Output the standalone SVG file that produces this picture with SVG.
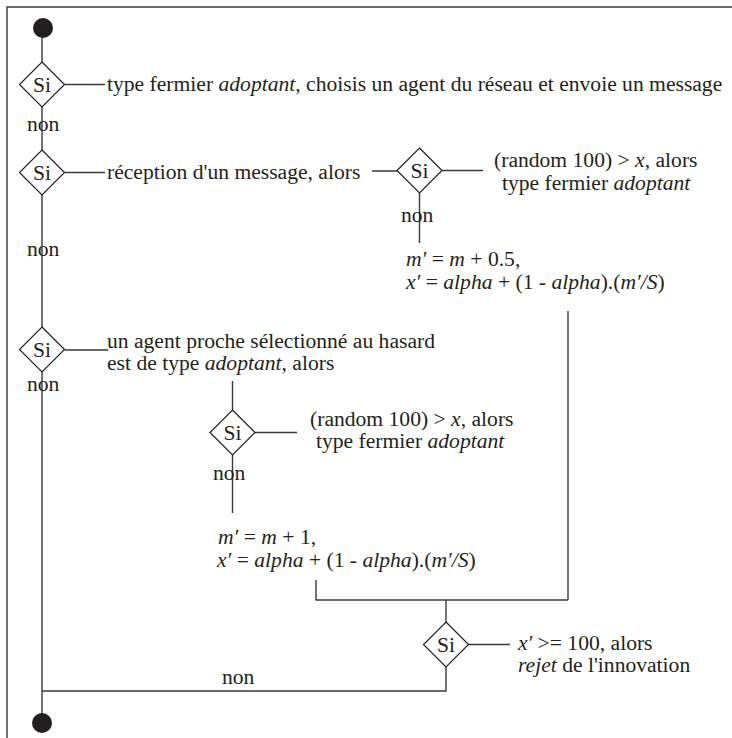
<svg xmlns="http://www.w3.org/2000/svg" width="732" height="738" viewBox="0 0 732 738" font-family="'Liberation Serif', Tinos, 'Times New Roman', 'Nimbus Roman', 'DejaVu Serif', serif">
<style>
text{font-family:'Liberation Serif',Tinos,'Times New Roman','Nimbus Roman','DejaVu Serif',serif;font-size:21.6px;fill:#231f20}
.i{font-style:italic}
.ln{stroke:#3a3a3a;stroke-width:1.4;fill:none}
.dm{fill:#fff;stroke:#231f20;stroke-width:1.2}
.si{text-anchor:middle}
.dot{fill:#231f20}
</style>
<rect width="732" height="738" fill="#fff"/>
<g id="frame"><path class="ln" d="M7,738 V7 H732"/></g>
<g id="connectors">
<path class="ln" d="M42,28 V62 M42,107 V150 M42,195 V327 M42,372 V723"/>
<path class="ln" d="M65,84.5 H105 M65,172.5 H105 M372,171 H397 M442,170.5 H483 M419.5,193 V243"/>
<path class="ln" d="M568,311 V600 M65,350 H108 M232.5,381 V410 M255,432.5 H297 M232.5,455 V513"/>
<path class="ln" d="M316,580 V600 H568 M446,600 V622 M468,644.5 H510 M446,667 V691 H42"/>
</g>
<g id="start"><circle class="dot" cx="43" cy="28" r="10"/></g>
<g id="end"><circle class="dot" cx="42" cy="723" r="10"/></g>
<g id="d1"><path class="dm" d="M42,62 L64.5,84.5 L42,107 L19.5,84.5 Z"/><text class="si" x="42" y="91.5">Si</text></g>
<g id="t1"><text x="107" y="91">type fermier <tspan class="i">adoptant,</tspan> choisis un agent du réseau et envoie un message</text></g>
<g id="n1"><text x="27" y="131">non</text></g>
<g id="d2"><path class="dm" d="M42,150 L64.5,172.5 L42,195 L19.5,172.5 Z"/><text class="si" x="42" y="179.5">Si</text></g>
<g id="t2"><text x="107" y="179">réception d'un message, alors</text></g>
<g id="d3"><path class="dm" d="M419.5,148 L442,170.5 L419.5,193 L397,170.5 Z"/><text class="si" x="419.5" y="177.5">Si</text></g>
<g id="t3"><text x="494" y="167">(random 100) &gt; <tspan class="i">x</tspan>, alors</text><text x="502" y="190">type fermier <tspan class="i">adoptant</tspan></text></g>
<g id="n3"><text x="401" y="222">non</text></g>
<g id="f1"><text x="406" y="266"><tspan class="i">m′</tspan> = <tspan class="i">m</tspan> + 0.5,</text><text x="406" y="289"><tspan class="i">x′</tspan> = <tspan class="i">alpha</tspan> + (1 - <tspan class="i">alpha</tspan>).(<tspan class="i">m′/S</tspan>)</text></g>
<g id="n2"><text x="27" y="256">non</text></g>
<g id="d5"><path class="dm" d="M42,327 L64.5,349.5 L42,372 L19.5,349.5 Z"/><text class="si" x="42" y="356.5">Si</text></g>
<g id="t5"><text x="107" y="348">un agent proche sélectionné au hasard</text><text x="107" y="370">est de type <tspan class="i">adoptant</tspan>, alors</text></g>
<g id="n5"><text x="27" y="391">non</text></g>
<g id="d6"><path class="dm" d="M232.5,410 L255,432.5 L232.5,455 L210,432.5 Z"/><text class="si" x="232.5" y="439.5">Si</text></g>
<g id="t6"><text x="310" y="426">(random 100) &gt; <tspan class="i">x</tspan>, alors</text><text x="316" y="448">type fermier <tspan class="i">adoptant</tspan></text></g>
<g id="n6"><text x="213" y="480">non</text></g>
<g id="f2"><text x="218" y="544"><tspan class="i">m′</tspan> = <tspan class="i">m</tspan> + 1,</text><text x="217" y="567"><tspan class="i">x′</tspan> = <tspan class="i">alpha</tspan> + (1 - <tspan class="i">alpha</tspan>).(<tspan class="i">m′/S</tspan>)</text></g>
<g id="d4"><path class="dm" d="M446,622 L468.5,644.5 L446,667 L423.5,644.5 Z"/><text class="si" x="446" y="651.5">Si</text></g>
<g id="t4"><text x="518" y="650"><tspan class="i">x'</tspan> &gt;= 100, alors</text><text x="518" y="672"><tspan class="i">rejet</tspan> de l'innovation</text></g>
<g id="n4"><text x="222" y="684">non</text></g>
</svg>
